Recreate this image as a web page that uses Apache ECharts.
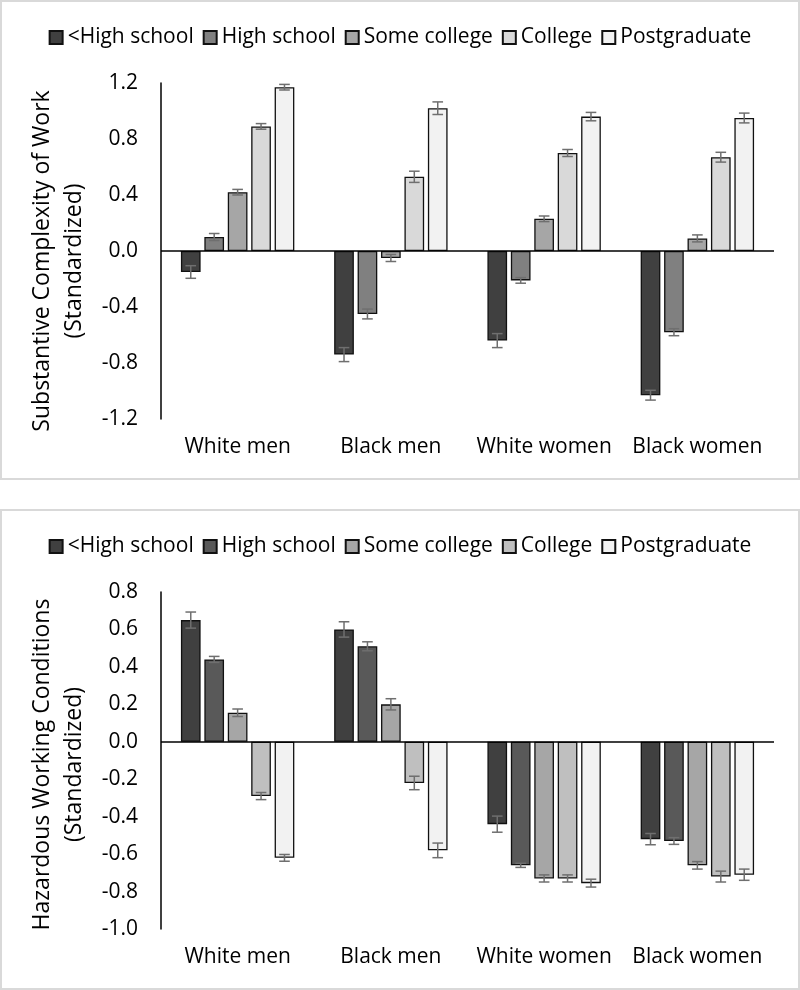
<!DOCTYPE html>
<html>
<head>
<meta charset="utf-8">
<script src="https://cdn.jsdelivr.net/npm/echarts@6/dist/echarts.min.js"></script>
<style>
  html, body { margin: 0; padding: 0; background: #fff; }
  body { width: 800px; height: 990px; position: relative; overflow: hidden; }
  .chart { position: absolute; left: 0; width: 800px; }
  .frame { position: absolute; box-sizing: border-box; border: 2px solid #d9d9d9; pointer-events: none; z-index: 5; }
</style>
</head>
<body>
<div id="c1" class="chart" style="top:0;height:479px;"></div>
<div id="c2" class="chart" style="top:509px;height:480px;"></div>
<div class="frame" style="left:0;top:0;width:800px;height:480px;"></div>
<div class="frame" style="left:0;top:509px;width:800px;height:481px;"></div>
<script>
// ---------- data ----------
const categories = ['White men', 'Black men', 'White women', 'Black women'];
const levels = ['<High school', 'High school', 'Some college', 'College', 'Postgraduate'];

// Panel 1: Substantive Complexity of Work (Standardized)
const complexityLessHS      = [-0.15, -0.74, -0.64, -1.03];
const complexityHS          = [0.10, -0.45, -0.21, -0.58];
const complexitySomeCollege = [0.42, -0.05, 0.23, 0.09];
const complexityCollege     = [0.89, 0.53, 0.70, 0.67];
const complexityPostgrad    = [1.17, 1.02, 0.96, 0.95];
const complexityErrLessHS      = [0.045, 0.05, 0.05, 0.035];
const complexityErrHS          = [0.025, 0.035, 0.02, 0.025];
const complexityErrSomeCollege = [0.02, 0.025, 0.02, 0.025];
const complexityErrCollege     = [0.02, 0.04, 0.025, 0.035];
const complexityErrPostgrad    = [0.02, 0.045, 0.03, 0.035];
const complexityTicks = { min: -1.2, max: 1.2, interval: 0.4 };

// Panel 2: Hazardous Working Conditions (Standardized)
const hazardLessHS      = [0.65, 0.60, -0.44, -0.52];
const hazardHS          = [0.44, 0.51, -0.66, -0.53];
const hazardSomeCollege = [0.155, 0.20, -0.73, -0.66];
const hazardCollege     = [-0.29, -0.22, -0.73, -0.72];
const hazardPostgrad    = [-0.62, -0.58, -0.755, -0.71];
const hazardErrLessHS      = [0.043, 0.041, 0.043, 0.03];
const hazardErrHS          = [0.016, 0.024, 0.011, 0.018];
const hazardErrSomeCollege = [0.02, 0.03, 0.019, 0.02];
const hazardErrCollege     = [0.019, 0.036, 0.019, 0.029];
const hazardErrPostgrad    = [0.018, 0.039, 0.021, 0.03];
const hazardTicks = { min: -1.0, max: 0.8, interval: 0.2 };

const colors1 = ['#404040', '#808080', '#a6a6a6', '#d9d9d9', '#f2f2f2'];
const colors2 = ['#404040', '#595959', '#a6a6a6', '#bfbfbf', '#f2f2f2'];

// ---------- build ----------
const FONT = 'Open Sans';
const CAT_GAP = 0.26, BAR_GAP = 0.19;

function errRenderer(levelIdx, n) {
  return function (params, api) {
    const c = api.value(0), v = api.value(1), e = api.value(2);
    const band = api.size([1, 0])[0];
    const inner = band * (1 - CAT_GAP);
    const w = inner / (n + (n - 1) * BAR_GAP);
    const xOff = -inner / 2 + levelIdx * w * (1 + BAR_GAP) + w / 2;
    const hi = api.coord([c, v + e]);
    const lo = api.coord([c, v - e]);
    const x = hi[0] + xOff;
    const half = w * 0.27;
    const st = { stroke: '#6f6f6f', lineWidth: 1.5 };
    return {
      type: 'group',
      children: [
        { type: 'line', shape: { x1: x, y1: hi[1], x2: x, y2: lo[1] }, style: st },
        { type: 'line', shape: { x1: x - half, y1: hi[1], x2: x + half, y2: hi[1] }, style: st },
        { type: 'line', shape: { x1: x - half, y1: lo[1], x2: x + half, y2: lo[1] }, style: st }
      ]
    };
  };
}

function buildOption(valueSets, errSets, colors, ticks, title, titlePad) {
  const series = [];
  valueSets.forEach((vals, i) => {
    const s = {
      name: levels[i],
      type: 'bar',
      data: vals,
      barCategoryGap: (CAT_GAP * 100) + '%',
      barGap: (BAR_GAP * 100) + '%',
      itemStyle: { color: colors[i], borderColor: '#111', borderWidth: 1.3 },
      z: 2
    };
    if (i === 0) {
      s.markLine = {
        silent: true,
        symbol: ['none', 'none'],
        label: { show: false },
        lineStyle: { color: '#000', width: 1.5, type: 'solid' },
        data: [{ yAxis: 0 }],
        z: 3
      };
    }
    series.push(s);
  });
  errSets.forEach((errs, i) => {
    series.push({
      type: 'custom',
      renderItem: errRenderer(i, valueSets.length),
      data: errs.map((e, k) => [k, valueSets[i][k], e]),
      encode: { x: 0, y: 1 },
      z: 4,
      silent: true
    });
  });
  return {
    animation: false,
    textStyle: { fontFamily: FONT },
    legend: {
      data: levels,
      top: 22,
      left: 'center',
      itemWidth: 13,
      itemHeight: 13,
      itemGap: 9,
      icon: 'rect',
      textStyle: { fontFamily: FONT, fontSize: 21, color: '#000' }
    },
    grid: { left: 161, right: 26, top: 83, bottom: 60 },
    xAxis: {
      type: 'category',
      data: categories,
      axisLine: { show: false, onZero: false },
      axisTick: { show: false },
      axisLabel: { interval: 0, fontFamily: FONT, fontSize: 21, color: '#000', margin: 18 }
    },
    yAxis: {
      type: 'value',
      min: ticks.min,
      max: ticks.max,
      interval: ticks.interval,
      axisLine: { show: true, lineStyle: { color: '#000', width: 1.5 } },
      axisTick: { show: false },
      splitLine: { show: false },
      axisLabel: {
        fontFamily: FONT, fontSize: 21, color: '#000', margin: 23,
        formatter: v => v.toFixed(1)
      },
      name: title,
      nameLocation: 'middle',
      nameGap: 67,
      nameTextStyle: { fontFamily: FONT, fontSize: 23, color: '#000', lineHeight: 32, padding: titlePad }
    },
    series
  };
}

const chart1 = echarts.init(document.getElementById('c1'), null, { renderer: 'canvas' });
chart1.setOption(buildOption(
  [complexityLessHS, complexityHS, complexitySomeCollege, complexityCollege, complexityPostgrad],
  [complexityErrLessHS, complexityErrHS, complexityErrSomeCollege, complexityErrCollege, complexityErrPostgrad],
  colors1, complexityTicks,
  'Substantive Complexity of Work\n(Standardized)', [0, 20, 0, 0]
));

const chart2 = echarts.init(document.getElementById('c2'), null, { renderer: 'canvas' });
chart2.setOption(buildOption(
  [hazardLessHS, hazardHS, hazardSomeCollege, hazardCollege, hazardPostgrad],
  [hazardErrLessHS, hazardErrHS, hazardErrSomeCollege, hazardErrCollege, hazardErrPostgrad],
  colors2, hazardTicks,
  'Hazardous Working Conditions\n(Standardized)', [0, 8, 0, 0]
));
</script>
</body>
</html>
